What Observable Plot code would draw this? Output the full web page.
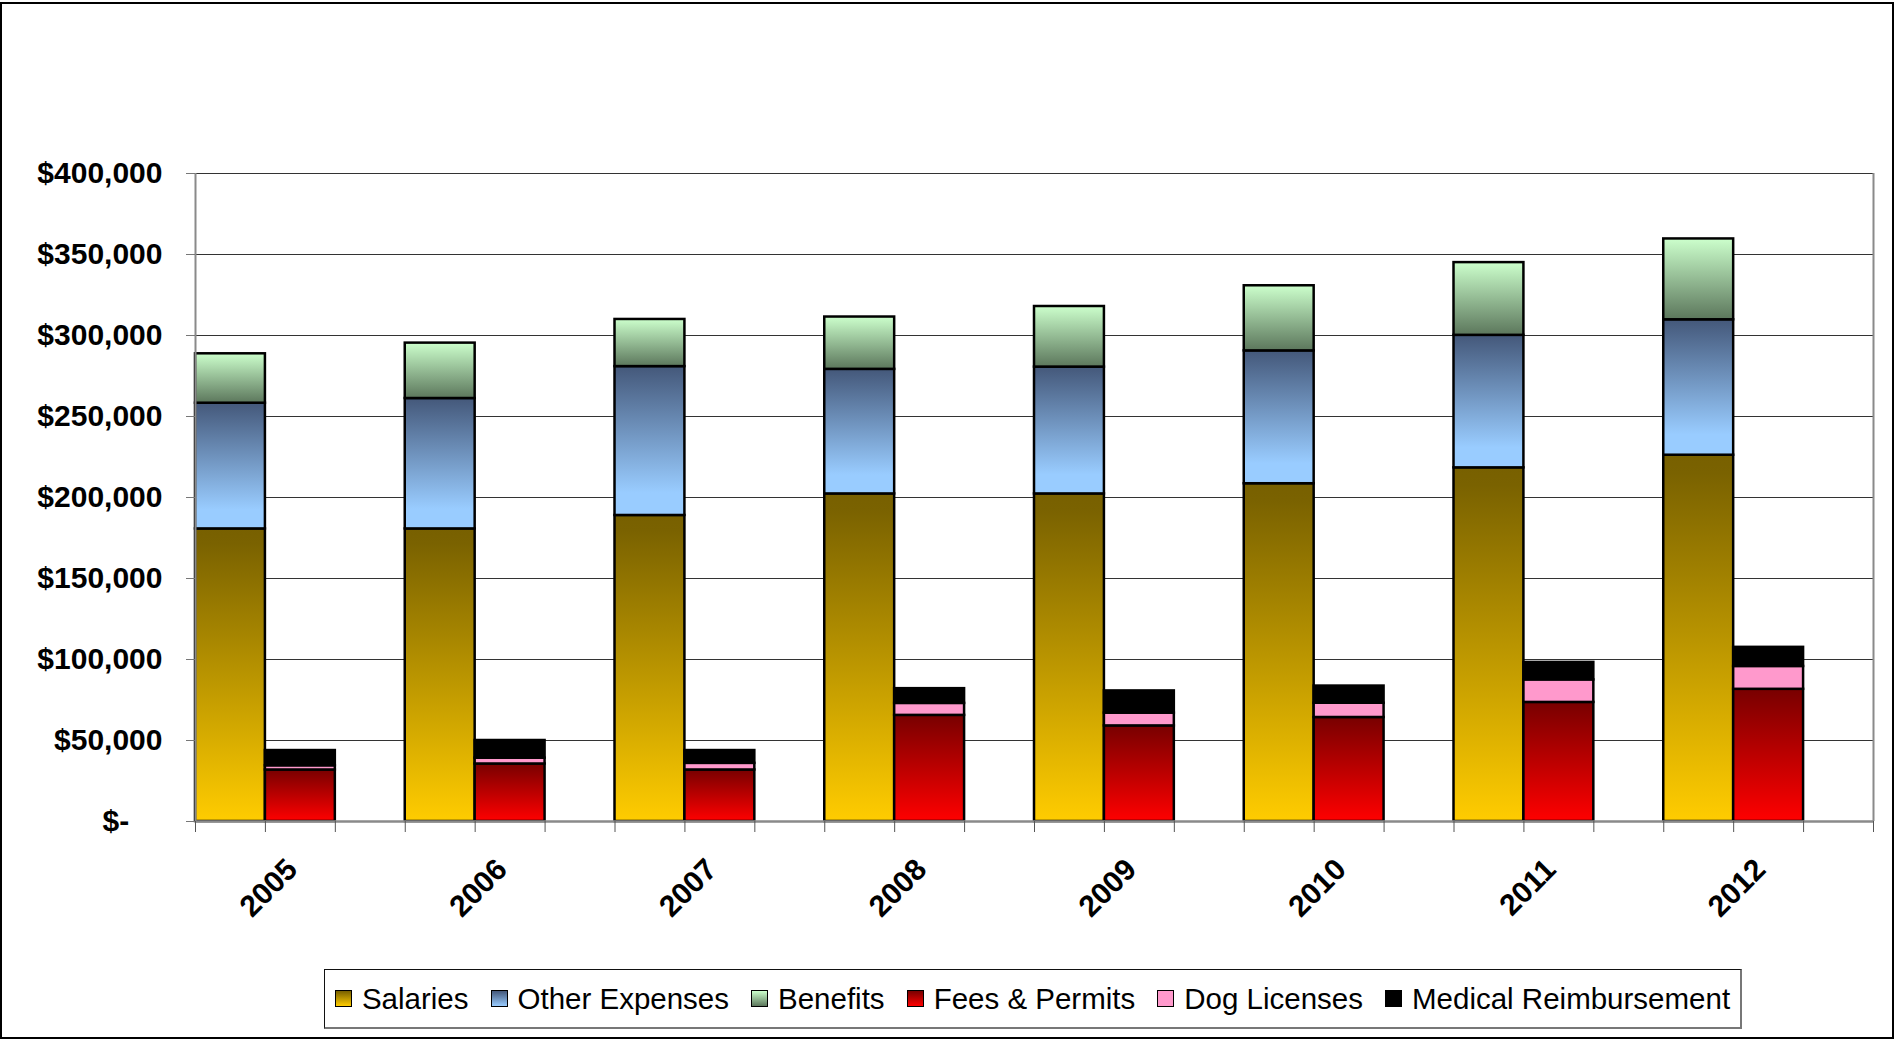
<!DOCTYPE html>
<html>
<head>
<meta charset="utf-8">
<script src="https://cdn.jsdelivr.net/npm/d3@7"></script>
<script src="https://cdn.jsdelivr.net/npm/@observablehq/plot@0.6"></script>
<style>
html, body { margin: 0; padding: 0; background: #fff; }
#wrap { position: relative; width: 1895px; height: 1040px; overflow: hidden; font-family: "Liberation Sans", Arial, sans-serif; background: #fff; }
#border { position: absolute; left: 0; top: 2px; width: 1894px; height: 1037px; border: 2px solid #000; box-sizing: border-box; pointer-events: none; }
#chart { position: absolute; left: 0; top: 0; }
#legend { position: absolute; left: 324px; top: 969px; width: 1418px; height: 60px; border: 1px solid #111; border-bottom: 2px solid #777; border-right: 2px solid #777; box-sizing: border-box; display: flex; align-items: center; justify-content: center; font-size: 29.5px; color: #000; white-space: nowrap; }
.item { display: flex; align-items: center; margin: 0 11px; }
.sw { width: 15px; height: 15px; border: 1.5px solid #000; margin-right: 10px; }
</style>
</head>
<body>
<svg width="0" height="0" style="position:absolute">
  <defs>
    <linearGradient id="grad0" x1="0" y1="0" x2="0" y2="1">
      <stop offset="0" stop-color="#786000"/><stop offset="0.05" stop-color="#7a6200"/><stop offset="1" stop-color="#ffcc00"/>
    </linearGradient>
    <linearGradient id="grad1" x1="0" y1="0" x2="0" y2="1">
      <stop offset="0" stop-color="#44587a"/><stop offset="0.85" stop-color="#99ccff"/><stop offset="1" stop-color="#99ccff"/>
    </linearGradient>
    <linearGradient id="grad2" x1="0" y1="0" x2="0" y2="1">
      <stop offset="0" stop-color="#ccffcc"/><stop offset="1" stop-color="#5c775c"/>
    </linearGradient>
    <linearGradient id="grad3" x1="0" y1="0" x2="0" y2="1">
      <stop offset="0" stop-color="#780000"/><stop offset="1" stop-color="#ff0000"/>
    </linearGradient>
    <linearGradient id="grad4" x1="0" y1="0" x2="0" y2="1">
      <stop offset="0" stop-color="#ff99cc"/><stop offset="1" stop-color="#ff99cc"/>
    </linearGradient>
    <linearGradient id="grad5" x1="0" y1="0" x2="0" y2="1">
      <stop offset="0" stop-color="#000000"/><stop offset="1" stop-color="#000000"/>
    </linearGradient>
  </defs>
</svg>
<div id="wrap">
  <div id="chart"></div>
  <div id="legend"></div>
  <div id="border"></div>
</div>
<script>
// ---- data ----
const years = ["2005", "2006", "2007", "2008", "2009", "2010", "2011", "2012"];
const salaries      = [180600, 180600, 188900, 202200, 202200, 208500, 218300, 226100];
const otherExpenses = [77600, 80500, 91900, 76900, 78300, 82000, 81800, 83600];
const benefits      = [30500, 34200, 29100, 32300, 37400, 40200, 44900, 49900];
const feesPermits   = [31800, 35500, 31800, 65500, 59000, 64200, 73500, 81600];
const dogLicenses   = [2600, 3600, 4100, 7400, 7900, 8800, 13900, 14100];
const medicalReimb  = [9400, 10900, 7900, 9100, 13700, 10600, 10800, 11800];
const seriesNames = ["Salaries", "Other Expenses", "Benefits", "Fees & Permits", "Dog Licenses", "Medical Reimbursement"];
const seriesValues = [salaries, otherExpenses, benefits, feesPermits, dogLicenses, medicalReimb];
const seriesSlot = [0, 0, 0, 1, 1, 1]; // 0 = expense column, 1 = revenue column
const yTicks = [0, 50000, 100000, 150000, 200000, 250000, 300000, 350000, 400000];

const swatchCss = [
  "linear-gradient(to bottom, #786000, #ffcc00)",
  "linear-gradient(to bottom, #44587a, #99ccff)",
  "linear-gradient(to bottom, #ccffcc, #5c775c)",
  "linear-gradient(to bottom, #780000, #ff0000)",
  "#ff99cc",
  "#000"
];

// ---- table ----
const slotsPerYear = 3;
const rows = [];
years.forEach((yr, i) => {
  seriesNames.forEach((s, k) => {
    rows.push({
      year: yr,
      series: s,
      value: seriesValues[k][i],
      x1: i + seriesSlot[k] / slotsPerYear,
      x2: i + (seriesSlot[k] + 1) / slotsPerYear
    });
  });
});
const labels = years.map((yr, i) => ({year: yr, c: i + 0.5}));
const slotTicks = d3.range(0, years.length * slotsPerYear + 1).map(k => k / slotsPerYear);

const fmt = d => d === 0 ? "$-\u2007\u2007" : "$" + d3.format(",")(d);

const chart = Plot.plot({
  width: 1895,
  height: 960,
  marginTop: 173,
  marginLeft: 195,
  marginRight: 22,
  marginBottom: 139,
  style: {fontFamily: "'Liberation Sans', Arial, sans-serif", background: "transparent", color: "#000"},
  x: {domain: [0, years.length], axis: null, label: null},
  y: {domain: [0, 400000], axis: null, label: null},
  color: {domain: seriesNames, range: seriesNames.map((s, k) => `url(#grad${k})`)},
  marks: [
    Plot.gridY(yTicks, {stroke: "#333", strokeOpacity: 1, strokeWidth: 1.2}),
    Plot.rectY(rows, {x1: "x1", x2: "x2", y: "value", fill: "series", stroke: "#000", strokeWidth: 2.5}),
    Plot.ruleX([0, years.length], {stroke: "#8a8a8a", strokeWidth: 2}),
    Plot.ruleY([0], {stroke: "#8a8a8a", strokeWidth: 2.5}),
    Plot.axisY(yTicks, {tickSize: 9, tickPadding: 24, stroke: "#777", fill: "#000", fontSize: 30, fontWeight: "bold", tickFormat: fmt, label: null}),
    Plot.axisX(slotTicks, {tickSize: 11, stroke: "#555", tickFormat: () => "", label: null}),
    Plot.text(labels, {x: "c", text: "year", frameAnchor: "bottom", rotate: -45, textAnchor: "end", lineAnchor: "middle", dx: -8, dy: 43, fontSize: 30, fontWeight: "bold", fill: "#000"})
  ]
});
document.getElementById("chart").appendChild(chart);

// ---- legend ----
const legend = document.getElementById("legend");
seriesNames.forEach((s, k) => {
  const it = document.createElement("div");
  it.className = "item";
  const sw = document.createElement("div");
  sw.className = "sw";
  sw.style.background = swatchCss[k];
  const tx = document.createElement("span");
  tx.textContent = s;
  it.appendChild(sw);
  it.appendChild(tx);
  legend.appendChild(it);
});
</script>
</body>
</html>
